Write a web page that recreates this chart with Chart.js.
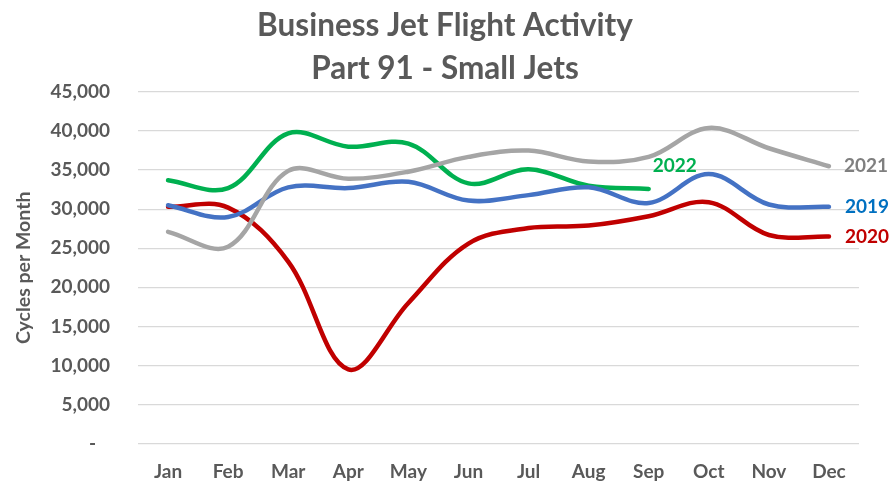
<!DOCTYPE html>
<html>
<head>
<meta charset="utf-8">
<script src="https://cdn.jsdelivr.net/npm/chart.js@4.4.1/dist/chart.umd.min.js"></script>
<style>
  html, body { margin: 0; padding: 0; background: #ffffff; }
  #wrap { width: 890px; height: 483px; position: relative; }
</style>
</head>
<body>
<div id="wrap"><canvas id="c" width="890" height="483"></canvas></div>
<script>
const months = ["Jan","Feb","Mar","Apr","May","Jun","Jul","Aug","Sep","Oct","Nov","Dec"];
const y2019 = [30500, 29000, 32800, 32700, 33500, 31100, 31800, 32800, 30800, 34500, 30600, 30300];
const y2020 = [30300, 30200, 23300, 9500, 18000, 25600, 27600, 27900, 29100, 30900, 26700, 26500];
const y2021 = [27100, 25200, 34900, 33900, 34800, 36700, 37500, 36100, 36700, 40400, 37800, 35500];
const y2022 = [33700, 32700, 39700, 38000, 38400, 33300, 35100, 33000, 32600, null, null, null];
const yTicks = [0, 5000, 10000, 15000, 20000, 25000, 30000, 35000, 40000, 45000];
const titleLines = ["Business Jet Flight Activity", "Part 91 - Small Jets"];
const yTitle = "Cycles per Month";

const FONT = "Lato, 'Open Sans', sans-serif";
const TXT = "#595959";

const endLabels = {
  id: "endLabels",
  afterDatasetsDraw(chart) {
    const ctx = chart.ctx;
    ctx.save();
    ctx.font = "bold 19px " + FONT;
    ctx.textBaseline = "middle";
    ctx.textAlign = "left";
    chart.data.datasets.forEach((ds, i) => {
      const meta = chart.getDatasetMeta(i);
      let last = -1;
      ds.data.forEach((v, j) => { if (v !== null) last = j; });
      if (last < 0) return;
      const pt = meta.data[last];
      const off = ds.labelOffset || [15, 0];
      ctx.fillStyle = ds.labelColor;
      ctx.fillText(ds.label, pt.x + off[0], pt.y + off[1]);
    });
    ctx.restore();
  }
};

const mk = (label, data, color, labelColor, labelOffset) => ({
  label, data,
  borderColor: color,
  backgroundColor: color,
  borderWidth: 4.5,
  pointRadius: 0,
  pointHoverRadius: 0,
  tension: 0.36,
  fill: false,
  spanGaps: false,
  borderCapStyle: "round",
  borderJoinStyle: "round",
  labelColor, labelOffset
});

new Chart(document.getElementById("c"), {
  type: "line",
  data: {
    labels: months,
    datasets: [
      mk("2021", y2021, "#A5A5A5", "#7F7F7F", [15, 0]),
      mk("2019", y2019, "#4472C4", "#0070C0", [16, 0]),
      mk("2020", y2020, "#C00000", "#C00000", [16, 0]),
      mk("2022", y2022, "#00B050", "#00B050", [4, -23])
    ]
  },
  plugins: [endLabels],
  options: {
    responsive: false,
    animation: false,
    devicePixelRatio: 1,
    layout: { padding: { left: 0, right: 0, top: 0, bottom: 0 } },
    plugins: {
      legend: { display: false },
      tooltip: { enabled: false },
      title: {
        display: true,
        text: titleLines,
        color: TXT,
        font: { family: FONT, size: 31.5, weight: "bold", lineHeight: "43px" },
        padding: { top: 4, bottom: 2 }
      }
    },
    scales: {
      x: {
        grid: { display: false, drawTicks: false },
        border: { display: false },
        offset: true,
        ticks: {
          color: TXT,
          font: { family: FONT, size: 19, weight: "bold", lineHeight: 1.2 },
          padding: 17,
          maxRotation: 0,
          autoSkip: false
        },
        afterFit(scale) { scale.height = 39; }
      },
      y: {
        min: 0,
        max: 45000,
        grid: { color: "#D9D9D9", lineWidth: 1.3, drawTicks: false },
        border: { display: false },
        afterBuildTicks(scale) { scale.ticks = yTicks.map(v => ({ value: v })); },
        ticks: {
          color: TXT,
          font: { family: FONT, size: 19, weight: "bold" },
          padding: 28,
          callback: (v) => v === 0 ? "-   " : v.toLocaleString("en-US")
        },
        title: {
          display: true,
          text: yTitle,
          color: TXT,
          font: { family: FONT, size: 19.5, weight: "bold", lineHeight: 1.2 },
          padding: { top: 12, bottom: 0 }
        },
        afterFit(scale) { scale.width = 138; }
      },
      yRight: {
        position: "right",
        min: 0,
        max: 45000,
        grid: { display: false, drawTicks: false },
        border: { display: false },
        ticks: { display: false },
        afterFit(scale) { scale.width = 31; }
      }
    }
  }
});
</script>
</body>
</html>
